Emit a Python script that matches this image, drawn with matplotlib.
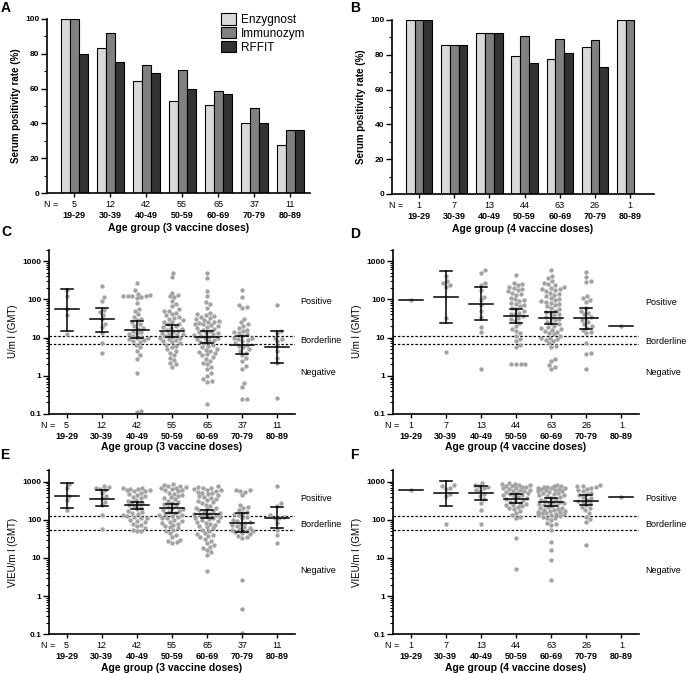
import matplotlib.pyplot as plt
import numpy as np
from matplotlib.patches import Patch

plt.rcParams['font.family'] = ['Liberation Sans', 'DejaVu Sans']

ages = ['19-29', '30-39', '40-49', '50-59', '60-69', '70-79', '80-89']
n_3 = [5, 12, 42, 55, 65, 37, 11]
n_4 = [1, 7, 13, 44, 63, 26, 1]

# A/B: serum positivity rate (%)
enz_3 = [100, 83.3, 64.3, 52.7, 50.8, 40.5, 27.3]
imm_3 = [100, 91.7, 73.8, 70.9, 58.5, 48.6, 36.4]
rff_3 = [80, 75, 69.0, 60.0, 56.9, 40.5, 36.4]
enz_4 = [100, 85.7, 92.3, 79.5, 77.8, 84.6, 100]
imm_4 = [100, 85.7, 92.3, 90.9, 88.9, 88.5, 100]
rff_4 = [100, 85.7, 92.3, 75.0, 81.0, 73.1, np.nan]

# C: Enzygnost U/ml, 3 doses
uml_3 = [
    [170, 120, 55, 38, 12],
    [225, 115, 90, 52, 47, 39, 30, 23, 19, 13, 7, 4],
    [270, 170, 140, 130, 125, 125, 120, 120, 115, 110, 80, 55, 48, 40, 35, 30, 28, 25,
     22, 20, 18, 17, 15, 14, 13, 12, 11, 10.5, 10, 9.5, 9, 8.5, 8, 7.5, 6.5, 5.5, 4.5,
     3.5, 2.8, 1.15, 0.11, 0.12],
    [500, 380, 150, 130, 120, 115, 90, 75, 65, 55, 50, 48, 45, 40, 38, 35, 32, 30, 28,
     26, 25, 23, 22, 20, 19, 18, 17, 16, 15, 14, 13, 12.5, 12, 11.5, 11, 10.5, 10, 9.5,
     9, 8.5, 8, 7.5, 7, 6.5, 6, 5.5, 5, 4.5, 4, 3.5, 3, 2.6, 2.2, 2.0, 1.7],
    [480, 360, 165, 125, 85, 75, 60, 45, 40, 38, 36, 34, 32, 30, 28, 27, 26, 25, 24, 23,
     22, 21, 20, 19, 18, 17, 16, 15, 14, 13.5, 13, 12, 11.5, 11, 10.5, 10, 9.5, 9, 8.5,
     8, 7.5, 7, 6.5, 6, 5.5, 5, 4.8, 4.5, 4.2, 4, 3.7, 3.4, 3.1, 2.8, 2.5, 2.2, 2.0,
     1.7, 1.5, 1.2, 1.0, 0.8, 0.75, 0.7, 0.18],
    [170, 115, 70, 62, 58, 30, 25, 22, 20, 18, 16, 15, 14, 13, 12, 11, 10, 9.5, 9, 8.5,
     8, 7, 6.5, 6, 5.5, 5, 4.5, 4, 3.5, 3, 2.5, 1.8, 1.5, 0.65, 0.5, 0.24, 0.24],
    [70, 15, 13, 10, 9, 8, 6, 4.5, 3, 2.2, 0.27],
]
uml_3_gmt = [55, 30, 16, 15, 10.5, 6.5, 5.7]
uml_3_lo = [15, 14, 10, 10.5, 7, 3.8, 2.2]
uml_3_hi = [190, 60, 27, 21, 15, 11, 15]

# D: Enzygnost U/ml, 4 doses
uml_4 = [
    [95],
    [410, 300, 270, 235, 215, 33, 4.1],
    [580, 500, 260, 230, 170, 117, 95, 71, 49, 35, 19, 14, 1.5],
    [420, 270, 250, 230, 210, 200, 190, 170, 160, 150, 140, 130, 110, 100, 95, 90, 80,
     75, 70, 65, 60, 55, 50, 45, 42, 40, 36, 33, 30, 27, 24, 20, 17, 15, 13, 11, 9, 8,
     6.5, 5.5, 2.0, 2.0, 2.0, 2.0],
    [580, 400, 350, 300, 270, 250, 230, 210, 200, 190, 180, 170, 160, 150, 140, 130, 120,
     110, 100, 95, 90, 85, 80, 75, 70, 65, 60, 55, 50, 47, 44, 41, 38, 35, 32, 30, 28,
     26, 24, 22, 20, 19, 18, 17, 16, 15, 14, 13, 12, 11, 10, 9.5, 9, 8.5, 8, 7, 6, 5.5,
     2.8, 2.5, 1.9, 1.7, 1.5],
    [520, 390, 300, 280, 120, 105, 95, 85, 60, 50, 45, 40, 35, 32, 28, 25, 22, 20, 18,
     16, 14, 13, 7, 3.9, 3.6, 1.5],
    [20],
]
uml_4_gmt = [95, 115, 75, 36, 32, 32, 20]
uml_4_lo = [np.nan, 24, 28, 24, 22, 17, np.nan]
uml_4_hi = [np.nan, 540, 210, 55, 46, 58, np.nan]

# E: Immunozym VIEU/ml, 3 doses
vieu_3 = [
    [850, 680, 420, 330, 180],
    [780, 720, 680, 650, 600, 500, 420, 370, 300, 250, 130, 58],
    [700, 680, 650, 640, 620, 600, 580, 560, 520, 480, 450, 420, 400, 370, 340, 320, 300,
     280, 260, 240, 230, 210, 190, 170, 160, 150, 140, 130, 125, 120, 115, 110, 100, 95,
     90, 80, 75, 70, 62, 55, 52, 50],
    [850, 800, 780, 750, 720, 700, 680, 650, 620, 600, 560, 520, 480, 450, 420, 400, 380,
     350, 320, 300, 280, 260, 240, 220, 200, 190, 180, 170, 160, 150, 140, 135, 130, 125,
     120, 115, 110, 100, 95, 90, 85, 80, 75, 70, 65, 60, 55, 50, 45, 40, 35, 30, 28, 26,
     25],
    [750, 720, 700, 680, 650, 620, 600, 580, 550, 520, 500, 470, 450, 420, 400, 380, 350,
     330, 310, 290, 270, 250, 230, 210, 200, 190, 180, 170, 160, 150, 145, 140, 135, 130,
     125, 120, 115, 110, 105, 100, 95, 90, 85, 80, 75, 70, 65, 60, 55, 50, 45, 42, 40,
     38, 35, 32, 28, 25, 22, 20, 18, 16, 14, 12, 4.5],
    [620, 600, 580, 550, 450, 240, 220, 200, 180, 160, 150, 140, 130, 120, 110, 100, 95,
     90, 85, 80, 75, 70, 65, 60, 57, 55, 52, 50, 47, 45, 42, 38, 35, 33, 2.7, 0.45, 0.11],
    [750, 280, 230, 130, 120, 115, 110, 85, 55, 40, 25],
]
vieu_3_gmt = [420, 360, 240, 200, 140, 85, 115]
vieu_3_lo = [200, 230, 190, 155, 110, 48, 60]
vieu_3_hi = [900, 600, 300, 255, 185, 155, 220]

# F: Immunozym VIEU/ml, 4 doses
vieu_4 = [
    [600],
    [830, 760, 700, 650, 470, 420, 80],
    [950, 820, 760, 720, 680, 620, 560, 480, 420, 350, 280, 180, 80],
    [950, 880, 850, 820, 800, 780, 760, 740, 720, 700, 680, 650, 620, 600, 580, 560, 540,
     520, 500, 480, 460, 440, 420, 400, 380, 360, 340, 320, 300, 280, 260, 250, 240, 230,
     220, 200, 190, 170, 150, 130, 120, 110, 33, 5.2],
    [800, 780, 760, 740, 720, 700, 690, 680, 660, 640, 620, 600, 580, 560, 540, 520, 500,
     480, 460, 440, 420, 400, 380, 360, 340, 320, 300, 290, 280, 270, 260, 250, 240, 230,
     220, 210, 200, 190, 185, 180, 175, 170, 165, 160, 155, 150, 145, 140, 135, 130, 125,
     120, 115, 110, 100, 85, 80, 75, 55, 26, 16, 9, 2.6],
    [820, 780, 760, 720, 700, 650, 600, 560, 520, 480, 440, 400, 370, 340, 320, 300, 280,
     250, 220, 200, 180, 150, 120, 105, 90, 22],
    [390],
]
vieu_4_gmt = [600, 500, 500, 360, 290, 320, 390]
vieu_4_lo = [np.nan, 230, 330, 270, 230, 240, np.nan]
vieu_4_hi = [np.nan, 1050, 780, 470, 380, 450, np.nan]

uml_cut = [6.8, 11]
vieu_cut = [53, 125]

W, H = 688, 673
fig = plt.figure(figsize=(W / 100, H / 100), dpi=100)


def rect(l, t, r, b):
    return [l / W, 1 - b / H, (r - l) / W, (b - t) / H]


def style_axes(ax):
    for s in ['top', 'right']:
        ax.spines[s].set_visible(False)
    for s in ['left', 'bottom']:
        ax.spines[s].set_linewidth(1.2)
    ax.set_xticks(range(7))
    ax.set_xticklabels([])
    ax.tick_params(axis='x', length=3, width=1)
    ax.tick_params(axis='y', which='major', length=4, width=1, labelsize=6, pad=1.5)
    ax.tick_params(axis='y', which='minor', length=2, width=0.8)
    for t in ax.get_yticklabels():
        t.set_fontweight('bold')


def group_labels(ax, ns, xlabel, nx, offs):
    for i, (n, a) in enumerate(zip(ns, ages)):
        ax.annotate(str(n), (i, 0), xycoords=('data', 'axes fraction'),
                    xytext=(0, -offs[0]), textcoords='offset points',
                    ha='center', va='center', fontsize=6.5)
        ax.annotate(a, (i, 0), xycoords=('data', 'axes fraction'),
                    xytext=(0, -offs[1]), textcoords='offset points',
                    ha='center', va='center', fontsize=6.5, fontweight='bold')
    ax.annotate('N =', (nx, 0), xycoords=('data', 'axes fraction'),
                xytext=(0, -offs[0]), textcoords='offset points',
                ha='right', va='center', fontsize=6.5)
    ax.annotate(xlabel, (0.5, 0), xycoords='axes fraction',
                xytext=(0, -offs[2]), textcoords='offset points',
                ha='center', va='center', fontsize=7.5, fontweight='bold')


def swarm_x(ax, i, vals, d=4.6, maxw=13.5):
    # beeswarm in pixel space, clamped to +-maxw px around the group centre
    vals = np.asarray(vals, float)
    pix = ax.transData.transform(np.column_stack([np.full(len(vals), i), vals]))
    ys = pix[:, 1]
    px_unit = ax.transData.transform((1, 1))[0] - ax.transData.transform((0, 1))[0]
    xs = np.zeros(len(vals))
    px_, py_ = [], []
    grid = list(np.arange(-maxw, maxw + 0.01, 0.5))
    for k in np.argsort(ys):
        y = ys[k]
        cands = [0.0]
        for qx, qy in zip(px_, py_):
            dy = y - qy
            if abs(dy) < d:
                dx = np.sqrt(d * d - dy * dy)
                cands += [qx + dx, qx - dx]
        cands = [c for c in cands if abs(c) <= maxw] + grid
        cands.sort(key=abs)
        qx = np.array(px_)
        qy = np.array(py_)
        best, best_gap = 0.0, -1
        for c in cands:
            gap = np.min((c - qx) ** 2 + (y - qy) ** 2) if len(qx) else 1e9
            if gap >= d * d - 1e-6:
                best = c
                break
            if gap > best_gap + 1e-6:
                best, best_gap = c, gap
        xs[k] = best
        px_.append(best)
        py_.append(y)
    return i + xs / px_unit


# ---- bar panels
bar_cols = ['#d9d9d9', '#808080', '#333333']
bar_names = ['Enzygnost', 'Immunozym', 'RFFIT']


def bar_panel(r, series, ns, xlabel, xlim, nx):
    ax = fig.add_axes(rect(*r))
    x = np.arange(7)
    for k, vals in enumerate(series):
        ax.bar(x + (k - 1) * 0.25, vals, 0.25, color=bar_cols[k], edgecolor='black',
               linewidth=0.8)
    ax.set_xlim(*xlim)
    ax.set_ylim(0, 100)
    ax.set_yticks(range(0, 101, 20))
    ax.set_yticks(range(10, 100, 20), minor=True)
    ax.set_ylabel('Serum positivity rate (%)', fontsize=7, fontweight='bold', labelpad=3)
    style_axes(ax)
    group_labels(ax, ns, xlabel, nx, (8, 16.5, 25))
    return ax


axA = bar_panel((47, 19, 310, 193), [enz_3, imm_3, rff_3], n_3,
                'Age group (3 vaccine doses)', (-0.75, 6.55), -0.45)
axA.legend(handles=[Patch(facecolor=c, edgecolor='black', linewidth=0.8) for c in bar_cols],
           labels=bar_names, loc='upper right', bbox_to_anchor=(1.0, 1.06),
           frameon=False, fontsize=8.5, handlelength=1.3, handleheight=1.1,
           labelspacing=0.1, handletextpad=0.4, borderaxespad=0)
bar_panel((392, 20, 654, 194), [enz_4, imm_4, rff_4], n_4,
          'Age group (4 vaccine doses)', (-0.77, 6.68), -0.45)


# ---- scatter panels
def scatter_panel(r, groups, gmt, lo, hi, ns, ylabel, xlabel, cuts, lab_y, lab_x):
    ax = fig.add_axes(rect(*r))
    ax.set_yscale('log')
    ax.set_xlim(-0.5, 6.5)
    ax.set_ylim(0.1, 2000)
    ax.set_yticks([0.1, 1, 10, 100, 1000])
    ax.set_yticklabels(['0.1', '1', '10', '100', '1000'])
    for i, vals in enumerate(groups):
        xs = swarm_x(ax, i, vals)
        ax.scatter(xs, vals, s=10, color='#a3a3a3', linewidths=0, zorder=2)
        ax.plot([i - 0.34, i + 0.34], [gmt[i], gmt[i]], color='black', lw=1.1, zorder=3)
        if not np.isnan(lo[i]):
            ax.plot([i, i], [lo[i], hi[i]], color='black', lw=1.1, zorder=3)
            for v in (lo[i], hi[i]):
                ax.plot([i - 0.17, i + 0.17], [v, v], color='black', lw=1.1, zorder=3)
    for c in cuts:
        ax.axhline(c, color='black', lw=0.9, ls=(0, (2, 1.5)), zorder=1)
    for txt, y in zip(['Positive', 'Borderline', 'Negative'], lab_y):
        ax.text(lab_x, y, txt, transform=ax.get_yaxis_transform(), fontsize=6.5,
                va='center', ha='left')
    ax.set_ylabel(ylabel, fontsize=7, labelpad=3)
    style_axes(ax)
    group_labels(ax, ns, xlabel, -0.31, (8, 16, 24))
    return ax


scatter_panel((49, 249.5, 295, 414), uml_3, uml_3_gmt, uml_3_lo, uml_3_hi, n_3,
              'U/m l (GMT)', 'Age group (3 vaccine doses)', uml_cut, [85, 8.5, 1.25], 1.02)
scatter_panel((393, 249.5, 639, 414), uml_4, uml_4_gmt, uml_4_lo, uml_4_hi, n_4,
              'U/m l (GMT)', 'Age group (4 vaccine doses)', uml_cut, [80, 8.1, 1.25], 1.027)
scatter_panel((49, 470.2, 295, 634.3), vieu_3, vieu_3_gmt, vieu_3_lo, vieu_3_hi, n_3,
              'VIEU/m l (GMT)', 'Age group (3 vaccine doses)', vieu_cut, [365, 76, 4.7], 1.02)
scatter_panel((393, 470.2, 639, 634.3), vieu_4, vieu_4_gmt, vieu_4_lo, vieu_4_hi, n_4,
              'VIEU/m l (GMT)', 'Age group (4 vaccine doses)', vieu_cut, [365, 76, 4.7], 1.027)

for lab, x, y in [('A', 6, 8), ('B', 355, 8), ('C', 6, 232), ('D', 355, 234),
                  ('E', 5, 455), ('F', 354, 455)]:
    fig.text(x / W, 1 - y / H, lab, fontsize=10, fontweight='bold', ha='center', va='center')

fig.savefig('out.png', dpi=100)
